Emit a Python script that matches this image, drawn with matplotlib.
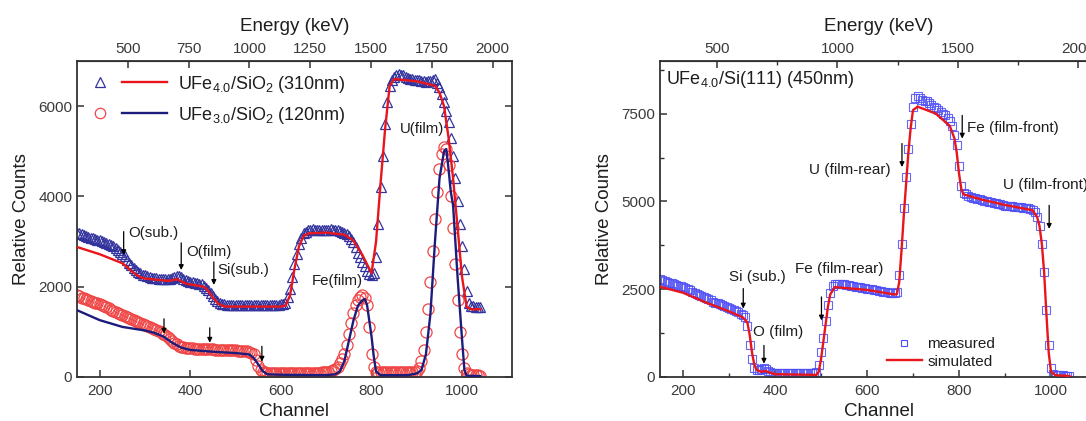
import matplotlib
matplotlib.use('Agg')
import matplotlib.pyplot as plt
from matplotlib.legend_handler import HandlerTuple
from matplotlib.lines import Line2D
from matplotlib.ticker import MultipleLocator, FixedLocator

plt.rcParams['font.family'] = ['Liberation Sans', 'DejaVu Sans']
plt.rcParams['mathtext.fontset'] = 'custom'
plt.rcParams['mathtext.rm'] = 'Liberation Sans'
plt.rcParams['mathtext.it'] = 'Liberation Sans:italic'
plt.rcParams['mathtext.bf'] = 'Liberation Sans:bold'
plt.rcParams['mathtext.default'] = 'regular'

# ---------------- data: left panel (UFe/SiO2) ----------------
# measured spectra are sampled every 5 channels from 150 to 1040
L_MEAS_CH = list(range(150, 1041, 5))
L1_cnt = [3200, 3180, 3160, 3140, 3120, 3100, 3080, 3070, 3060, 3045,
          3030, 3010, 2990, 2970, 2950, 2925, 2900, 2860, 2820, 2780,
          2730, 2670, 2600, 2530, 2470, 2420, 2370, 2330, 2300, 2270,
          2250, 2230, 2210, 2200, 2190, 2185, 2180, 2175, 2170, 2165,
          2160, 2170, 2190, 2220, 2240, 2240, 2220, 2180, 2140, 2120,
          2110, 2100, 2090, 2080, 2070, 2050, 2020, 1970, 1920, 1850,
          1790, 1730, 1680, 1640, 1620, 1610, 1600, 1600, 1600, 1600,
          1600, 1600, 1600, 1600, 1600, 1600, 1600, 1600, 1600, 1600,
          1600, 1600, 1600, 1600, 1600, 1600, 1600, 1600, 1600, 1600,
          1610, 1620, 1640, 1780, 1950, 2220, 2500, 2730, 2950, 3080,
          3180, 3220, 3250, 3260, 3270, 3265, 3260, 3255, 3250, 3255,
          3260, 3265, 3270, 3265, 3260, 3250, 3240, 3220, 3200, 3170,
          3130, 3060, 2980, 2870, 2750, 2650, 2550, 2450, 2350, 2280,
          2250, 2300, 2650, 3400, 4200, 4900, 5600, 6100, 6450, 6580,
          6650, 6700, 6720, 6700, 6680, 6650, 6620, 6610, 6600, 6590,
          6580, 6570, 6560, 6550, 6540, 6550, 6560, 6580, 6600, 6520,
          6420, 6280, 6100, 5900, 5650, 5300, 4900, 4400, 3900, 3400,
          2900, 2400, 1900, 1650, 1570, 1565, 1560, 1550, 1540]

L2_cnt = [1820, 1790, 1760, 1740, 1720, 1700, 1680, 1665, 1650, 1635,
          1620, 1595, 1570, 1545, 1520, 1490, 1460, 1435, 1410, 1390,
          1370, 1345, 1320, 1300, 1280, 1260, 1240, 1215, 1190, 1170,
          1150, 1130, 1110, 1090, 1070, 1050, 1030, 1000, 960, 920,
          880, 840, 800, 760, 720, 690, 670, 660, 650, 645,
          640, 635, 630, 625, 620, 620, 620, 615, 610, 610,
          610, 605, 600, 600, 600, 595, 590, 590, 590, 590,
          590, 585, 580, 575, 570, 565, 560, 540, 500, 380,
          250, 150, 110, 100, 95, 90, 90, 90, 90, 90,
          90, 90, 90, 90, 90, 90, 90, 90, 90, 90,
          90, 90, 90, 90, 90, 90, 95, 95, 100, 100,
          110, 120, 135, 150, 170, 230, 300, 400, 520, 700,
          950, 1200, 1420, 1600, 1700, 1780, 1810, 1760, 1600, 1100,
          500, 220, 120, 100, 100, 100, 100, 100, 100, 100,
          100, 100, 100, 100, 100, 100, 105, 110, 115, 120,
          130, 200, 350, 600, 1000, 1500, 2100, 2800, 3500, 4100,
          4600, 4950, 5100, 5050, 4700, 4000, 3300, 2500, 1700, 1000,
          500, 200, 80, 60, 50, 45, 40, 35, 30]

S1_ch = [150, 200, 250, 260, 270, 280, 290, 300, 350, 360,
         370, 380, 390, 400, 430, 440, 450, 460, 470, 480,
         600, 610, 620, 630, 640, 650, 660, 700, 740, 760,
         780, 790, 800, 810, 820, 830, 840, 850, 900, 940,
         950, 960, 970, 980, 990, 1000, 1010, 1020, 1040]
S1_cnt = [2880, 2720, 2520, 2440, 2350, 2270, 2210, 2180, 2130, 2140,
          2170, 2120, 2070, 2050, 2000, 1900, 1760, 1640, 1580, 1560,
          1560, 1580, 1800, 2400, 2900, 3120, 3180, 3200, 3150, 3020,
          2700, 2500, 2300, 3000, 4300, 5500, 6450, 6600, 6550, 6450,
          6300, 6000, 5300, 4400, 3300, 2200, 1550, 1500, 1500]

S2_ch = [150, 200, 250, 300, 320, 340, 360, 380, 400, 450,
         500, 530, 540, 550, 560, 570, 600, 700, 720, 730,
         740, 750, 760, 770, 780, 785, 790, 800, 805, 810,
         820, 880, 900, 910, 920, 930, 940, 950, 960, 965,
         970, 975, 980, 990, 1000, 1005, 1010, 1040]
S2_cnt = [1480, 1260, 1110, 1030, 980, 900, 760, 650, 600, 560,
          530, 500, 420, 280, 130, 60, 50, 40, 60, 120,
          350, 800, 1250, 1580, 1700, 1730, 1600, 900, 450, 120,
          40, 40, 80, 150, 500, 1400, 3000, 4400, 5000, 5050,
          4600, 4100, 3800, 2200, 800, 150, 30, 20]

# ---------------- data: right panel (UFe4.0/Si(111)) ----------------
R_MEAS_CH = list(range(150, 1041, 5))
R1_cnt = [2800, 2770, 2740, 2715, 2690, 2665, 2640, 2620, 2600, 2580,
          2560, 2530, 2500, 2465, 2430, 2400, 2370, 2335, 2300, 2270,
          2240, 2210, 2180, 2150, 2120, 2095, 2070, 2040, 2010, 1985,
          1960, 1930, 1900, 1870, 1840, 1805, 1770, 1720, 1450, 900,
          500, 260, 200, 210, 240, 260, 230, 170, 140, 125,
          110, 105, 100, 100, 100, 100, 100, 100, 100, 100,
          100, 100, 100, 100, 100, 100, 110, 120, 150, 350,
          700, 1100, 1600, 2050, 2400, 2580, 2650, 2660, 2650, 2640,
          2640, 2630, 2620, 2600, 2580, 2570, 2560, 2550, 2540, 2530,
          2520, 2510, 2500, 2485, 2470, 2460, 2450, 2435, 2420, 2410,
          2400, 2400, 2400, 2420, 2900, 3800, 4800, 5700, 6500, 7200,
          7700, 7950, 8000, 7950, 7900, 7870, 7850, 7800, 7750, 7700,
          7650, 7600, 7550, 7500, 7450, 7380, 7300, 7150, 6900, 6600,
          6000, 5450, 5250, 5200, 5150, 5120, 5100, 5090, 5080, 5065,
          5050, 5025, 5000, 4990, 4980, 4965, 4950, 4935, 4920, 4900,
          4880, 4875, 4870, 4860, 4850, 4845, 4840, 4830, 4820, 4810,
          4800, 4780, 4760, 4700, 4550, 4300, 3800, 3000, 1900, 900,
          250, 80, 60, 55, 50, 45, 40, 40, 40]

R2_ch = [150, 200, 250, 300, 330, 340, 345, 350, 355, 360,
         370, 380, 390, 400, 490, 495, 500, 505, 510, 515,
         520, 530, 600, 660, 665, 670, 675, 680, 685, 690,
         695, 700, 710, 750, 780, 790, 795, 800, 805, 810,
         850, 900, 960, 970, 975, 980, 985, 990, 995, 1000,
         1010, 1040]
R2_cnt = [2570, 2400, 2120, 1870, 1700, 1550, 1200, 700, 350, 200,
          150, 170, 120, 80, 60, 150, 500, 1000, 1500, 2000,
          2350, 2560, 2480, 2350, 2360, 2700, 3600, 4600, 5500, 6400,
          7100, 7600, 7700, 7500, 7150, 6800, 6400, 5800, 5350, 5200,
          5050, 4900, 4750, 4550, 4300, 3800, 3000, 1800, 700, 150,
          50, 30]

# energy calibration (keV = gain * channel + offset)
L_GAIN, L_OFF = 1.8645, 10.6
R_GAIN, R_OFF = 1.911, -23.6

# ---------------- styles ----------------
RED = '#e8151b'
NAVY = '#1c1c7c'
TRI_C = '#33339e'
CIR_C = '#f04545'
SQ_C = '#4d4df5'
SPINE_C = '#333333'
TXT_C = '#1e1e1e'
TICK_C = '#3a3a3a'

fig = plt.figure(figsize=(10.86, 4.21), dpi=100)
W, H = 1086.0, 421.0
axL = fig.add_axes([77 / W, 1 - 377 / H, 435 / W, 316 / H])
axR = fig.add_axes([660 / W, 1 - 377 / H, 437 / W, 316 / H])


def style_axes(ax):
    for s in ax.spines.values():
        s.set_color(SPINE_C)
        s.set_linewidth(1.3)
    ax.tick_params(axis='both', which='both', direction='in', colors=SPINE_C,
                   labelcolor=TICK_C, labelsize=11, top=False, right=True)
    ax.tick_params(axis='x', which='both', pad=5)
    ax.tick_params(which='major', length=5, width=1.1)
    ax.tick_params(which='minor', length=3, width=1.0)


def style_top(sec, major, minor=None):
    sec.xaxis.set_major_locator(FixedLocator(major))
    if minor:
        sec.xaxis.set_minor_locator(MultipleLocator(minor))
    sec.tick_params(which='both', direction='in', colors=SPINE_C,
                    labelcolor=TICK_C, labelsize=11)
    sec.tick_params(which='major', length=5, width=1.1)
    sec.tick_params(which='minor', length=3, width=1.0)
    sec.set_xlabel('Energy (keV)', fontsize=13.5, color=TXT_C, labelpad=8)


arrow_kw = dict(arrowstyle='-|>', color='black', lw=0.9, mutation_scale=7,
                shrinkA=0, shrinkB=0)

# ---------------- left panel ----------------
axL.plot(L_MEAS_CH, L1_cnt, ls='none', marker='^', mfc='none', mec=TRI_C,
         ms=7.5, mew=0.9, zorder=2)
axL.plot(L_MEAS_CH, L2_cnt, ls='none', marker='o', mfc='none', mec=CIR_C,
         ms=8, mew=0.9, zorder=2)
axL.plot(S1_ch, S1_cnt, color=RED, lw=1.7, zorder=3)
axL.plot(S2_ch, S2_cnt, color=NAVY, lw=1.7, zorder=3)
axL.set_xlim(150, 1110)
axL.set_ylim(0, 7000)
axL.xaxis.set_major_locator(FixedLocator([200, 400, 600, 800, 1000]))
axL.yaxis.set_major_locator(FixedLocator([0, 2000, 4000, 6000]))
style_axes(axL)
axL.set_xlabel('Channel', fontsize=13.5, color=TXT_C, labelpad=4)
axL.set_ylabel('Relative Counts', fontsize=13.5, color=TXT_C, labelpad=6)

topL = axL.secondary_xaxis('top', functions=(lambda c: L_GAIN * c + L_OFF,
                                             lambda e: (e - L_OFF) / L_GAIN))
style_top(topL, [500, 750, 1000, 1250, 1500, 1750, 2000])

hL = [(Line2D([], [], ls='none', marker='^', mfc='none', mec=TRI_C, ms=7, mew=0.9),
       Line2D([], [], color=RED, lw=1.7)),
      (Line2D([], [], ls='none', marker='o', mfc='none', mec=CIR_C, ms=7.5, mew=0.9),
       Line2D([], [], color=NAVY, lw=1.7))]
labL = [r'UFe$_{4.0}$/SiO$_{2}$ (310nm)', r'UFe$_{3.0}$/SiO$_{2}$ (120nm)']
legL = axL.legend(hL, labL, handler_map={tuple: HandlerTuple(ndivide=None, pad=0)},
                  loc='upper left', bbox_to_anchor=(0.0, 0.96), frameon=False,
                  fontsize=13, handlelength=5.0, handletextpad=0.6,
                  labelspacing=0.55, borderaxespad=0, borderpad=0)
for t in legL.get_texts():
    t.set_color(TXT_C)

for x, y0, y1 in [(253, 3220, 2700), (380, 2970, 2370), (452, 2550, 2040),
                  (342, 1290, 960), (443, 1090, 760), (558, 680, 340)]:
    axL.annotate('', xy=(x, y1), xytext=(x, y0), arrowprops=arrow_kw)
for x, y, s in [(263, 3190, 'O(sub.)'), (391, 2780, 'O(film)'),
                (459, 2370, 'Si(sub.)'), (668, 2120, 'Fe(film)'),
                (863, 5500, 'U(film)')]:
    axL.text(x, y, s, ha='left', va='center', fontsize=10.8, color=TXT_C)

# ---------------- right panel ----------------
axR.plot(R_MEAS_CH, R1_cnt, ls='none', marker='s', mfc='none', mec=SQ_C,
         ms=5.5, mew=0.8, alpha=0.85, zorder=2)
axR.plot(R2_ch, R2_cnt, color=RED, lw=1.7, zorder=3)
axR.set_xlim(150, 1100)
axR.set_ylim(0, 9000)
axR.xaxis.set_major_locator(FixedLocator([200, 400, 600, 800, 1000]))
axR.xaxis.set_minor_locator(MultipleLocator(100))
axR.yaxis.set_major_locator(FixedLocator([0, 2500, 5000, 7500]))
axR.yaxis.set_minor_locator(MultipleLocator(1250))
style_axes(axR)
axR.set_xlabel('Channel', fontsize=13.5, color=TXT_C, labelpad=4)
axR.set_ylabel('Relative Counts', fontsize=13.5, color=TXT_C, labelpad=6)

topR = axR.secondary_xaxis('top', functions=(lambda c: R_GAIN * c + R_OFF,
                                             lambda e: (e - R_OFF) / R_GAIN))
style_top(topR, [500, 1000, 1500, 2000], 250)

hR = [Line2D([], [], ls='none', marker='s', mfc='none', mec=SQ_C, ms=5, mew=0.8),
      Line2D([], [], color=RED, lw=1.7)]
legR = axR.legend(hR, ['measured', 'simulated'], loc='lower left',
                  bbox_to_anchor=(0.519, 0.026), frameon=False, fontsize=11,
                  handlelength=2.3, handletextpad=0.35, labelspacing=0.25,
                  borderaxespad=0, borderpad=0)
for t in legR.get_texts():
    t.set_color(TXT_C)

axR.text(0.014, 0.94, r'UFe$_{4.0}$/Si(111) (450nm)', transform=axR.transAxes,
         ha='left', va='center', fontsize=13, color=TXT_C)
for x, y0, y1 in [(331, 2520, 1950), (376, 900, 380), (501, 2280, 1610),
                  (676, 6650, 5980), (807, 7450, 6790), (996, 4890, 4220)]:
    axR.annotate('', xy=(x, y1), xytext=(x, y0), arrowprops=arrow_kw)
for x, y, s in [(300, 2850, 'Si (sub.)'), (352, 1280, 'O (film)'),
                (444, 3090, 'Fe (film-rear)'), (474, 5900, 'U (film-rear)'),
                (818, 7100, 'Fe (film-front)'), (896, 5460, 'U (film-front)')]:
    axR.text(x, y, s, ha='left', va='center', fontsize=11, color=TXT_C)

fig.savefig('out.png', dpi=100)
